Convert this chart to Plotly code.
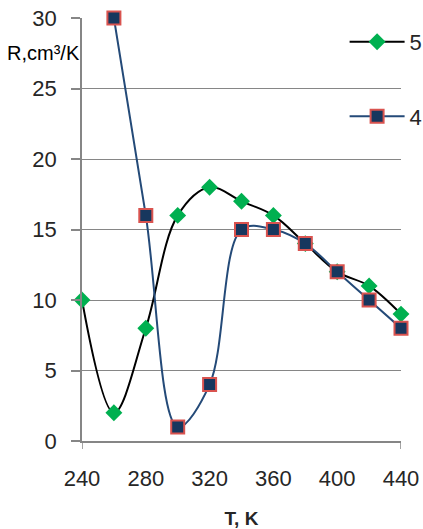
import plotly.graph_objects as go

# Data
t5 = [240, 260, 280, 300, 320, 340, 360, 380, 400, 420, 440]
r5 = [10, 2, 8, 16, 18, 17, 16, 14, 12, 11, 9]
t4 = [260, 280, 300, 320, 340, 360, 380, 400, 420, 440]
r4 = [30, 16, 1, 4, 15, 15, 14, 12, 10, 8]
x_ticks = [240, 280, 320, 360, 400, 440]
y_ticks = [0, 5, 10, 15, 20, 25, 30]

FONT = "Liberation Sans"
AX = "#868686"
TXT = "#262626"

fig = go.Figure()
fig.add_trace(go.Scatter(
    x=t5, y=r5, name="5", mode="lines+markers", legendgroup="a",
    line=dict(color="black", width=2, shape="spline", smoothing=1.0),
    marker=dict(symbol="diamond", size=13, color="#00B050", line=dict(width=0)),
    cliponaxis=False,
))
fig.add_trace(go.Scatter(
    x=t4, y=r4, name="4", mode="lines+markers", legendgroup="b",
    line=dict(color="#244A78", width=2, shape="spline", smoothing=1.0),
    marker=dict(symbol="square", size=13, color="#17375E",
                line=dict(width=2, color="#D9534F")),
    cliponaxis=False,
))

# end tick marks on x axis (Excel-style)
for xv in [240, 440]:
    fig.add_shape(type="line", xref="x", yref="paper", x0=xv, x1=xv,
                  y0=0, y1=-0.019, line=dict(color=AX, width=1.5))

fig.add_annotation(text="R,cm³/K", xref="paper", yref="paper",
                   x=0.0, y=0.917, xanchor="right", yanchor="middle",
                   showarrow=False,
                   font=dict(family=FONT, size=20, color="black"))

fig.update_layout(
    width=439, height=529,
    margin=dict(l=82, r=37, t=18, b=88),
    paper_bgcolor="white", plot_bgcolor="white",
    font=dict(family=FONT, color=TXT),
    showlegend=True,
    legend=dict(x=1.08, y=0.993, xanchor="right", yanchor="top",
                bgcolor="rgba(0,0,0,0)", tracegroupgap=43,
                font=dict(size=22, family=FONT, color=TXT), itemwidth=55),
    xaxis=dict(range=[240, 440], tickvals=x_ticks, ticks="",
               showgrid=False, showline=True, linecolor=AX, linewidth=1.5,
               zeroline=False, tickfont=dict(size=22, family=FONT),
               ticklabelstandoff=17, automargin=False, ticklabeloverflow="allow",
               title=dict(text="<b>T, K</b>", font=dict(size=19, family=FONT),
                          standoff=24)),
    yaxis=dict(range=[0, 30], tickvals=y_ticks, ticks="outside", ticklen=9,
               tickcolor=AX, tickwidth=1.5, ticklabelstandoff=10,
               ticklabeloverflow="allow",
               showgrid=True, gridcolor=AX, gridwidth=1.2, automargin=False,
               showline=True, linecolor=AX, linewidth=1.5, zeroline=False,
               tickfont=dict(size=22, family=FONT)),
)

fig.write_html("out.html", config={"displayModeBar": False},
               post_script="document.body.style.margin='0';")
